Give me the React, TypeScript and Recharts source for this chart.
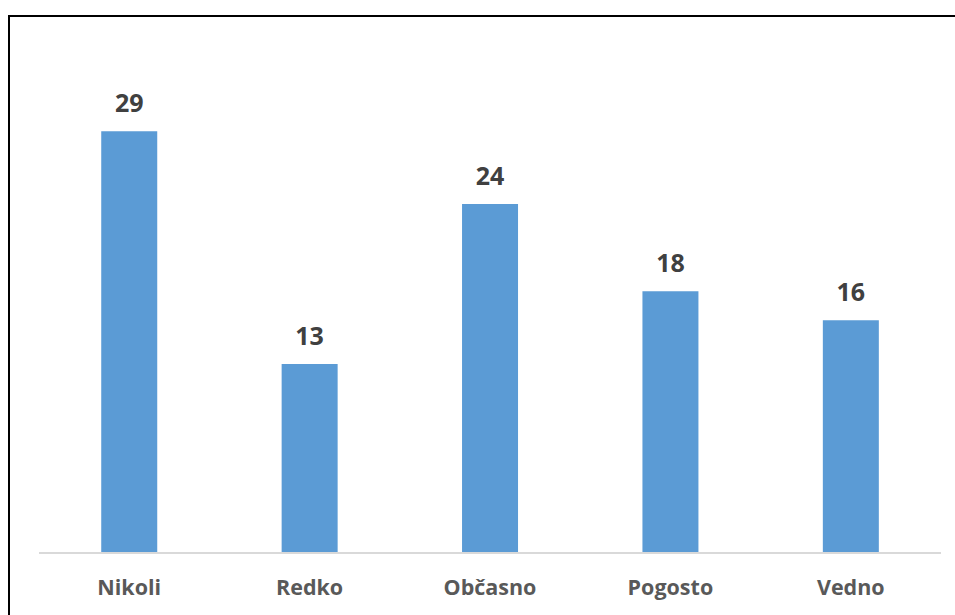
import { BarChart, Bar, XAxis, YAxis, LabelList } from "recharts";

const categories = ["Nikoli", "Redko", "Občasno", "Pogosto", "Vedno"];
const values = [29, 13, 24, 18, 16];

const data = categories.map((label, i) => ({ label, value: values[i] }));

const FONT = "'Open Sans', sans-serif";

export default function App() {
  return (
    <div
      style={{
        position: "fixed",
        left: 0,
        top: 0,
        width: 955,
        height: 615,
        overflow: "hidden",
        background: "#fff",
      }}
    >
      <div
        style={{
          position: "absolute",
          left: 8,
          top: 15,
          width: 1000,
          height: 700,
          border: "2px solid #000",
        }}
      />
      <div style={{ position: "absolute", left: 0, top: 0 }}>
        <BarChart
          width={955}
          height={615}
          data={data}
          margin={{ top: 44, right: 14, bottom: 0, left: 39 }}
          barCategoryGap="34.5%"
        >
          <YAxis hide domain={[0, 35]} />
          <XAxis
            dataKey="label"
            height={62}
            axisLine={{ stroke: "#d9d9d9", strokeWidth: 2 }}
            tickLine={false}
            tickMargin={21}
            tick={{ fill: "#595959", fontSize: 21.5, fontWeight: 700, fontFamily: FONT }}
          />
          <Bar dataKey="value" fill="#5b9bd5" isAnimationActive={false}>
            <LabelList
              dataKey="value"
              position="top"
              offset={19}
              fill="#404040"
              fontSize={25}
              fontWeight={700}
              fontFamily={FONT}
            />
          </Bar>
        </BarChart>
      </div>
    </div>
  );
}
